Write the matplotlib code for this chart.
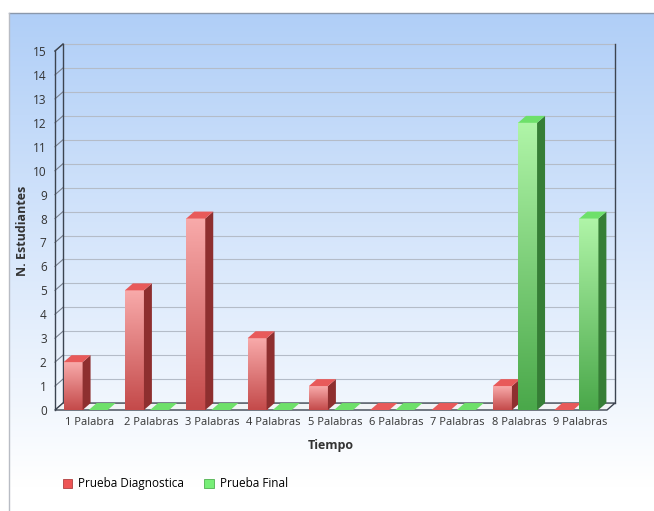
import numpy as np
import matplotlib
matplotlib.use("Agg")
import matplotlib.pyplot as plt
from matplotlib.patches import Patch

plt.rcParams['font.family'] = ['Open Sans', 'DejaVu Sans']

categories = ['1 Palabra', '2 Palabras', '3 Palabras', '4 Palabras', '5 Palabras',
              '6 Palabras', '7 Palabras', '8 Palabras', '9 Palabras']
diagnostica = [2, 5, 8, 3, 1, 0, 0, 1, 0]
final = [0, 0, 0, 0, 0, 0, 0, 12, 8]
series_names = ['Prueba Diagnostica', 'Prueba Final']
y_max = 15

# depth of the fake 3D effect (data units)
DX = 0.13
DY = 0.29
BAR_W = 0.31

red = dict(light='#f8aaaa', dark='#c44a4a', top='#e85a5a', side='#8e2f2f', legend='#ee5555')
green = dict(light='#b0f5a8', dark='#4aa84a', top='#6ee06a', side='#367e36', legend='#77ee77')

W, H = 654, 511
fig = plt.figure(figsize=(W / 100, H / 100), dpi=100)

# background panel with gradient (starts a bit in from top/left)
px0, py0 = 9, 13
bg = fig.add_axes([px0 / W, 0, 1 - px0 / W, 1 - py0 / H], zorder=0)
grad = np.linspace(0, 1, 256).reshape(-1, 1)
top_c = np.array([0.69, 0.81, 0.97])
bot_c = np.array([1.0, 1.0, 1.0])
t = np.clip(grad / 0.95, 0, 1)
img = (top_c * (1 - t) + bot_c * t).reshape(256, 1, 3)
bg.imshow(img, aspect='auto', extent=(0, 1, 0, 1), origin='upper')
bg.set_xlim(0, 1)
bg.set_ylim(0, 1)
bg.axis('off')
fig.add_artist(plt.Line2D([px0 / W, 1], [1 - py0 / H] * 2, color='#8a98ac', lw=1))
fig.add_artist(plt.Line2D([px0 / W] * 2, [0, 1 - py0 / H], color='#b8bcc4', lw=1))

ax = fig.add_axes([55 / W, 101 / H, 552 / W, 359 / H], zorder=1)
ax.patch.set_alpha(0)
n = len(categories)

# back wall gridlines + left wall slants
for v in range(y_max + 1):
    ax.plot([DX, n + DX], [v + DY, v + DY], color='#b4bcc8', lw=0.8, zorder=1, clip_on=False)
    ax.plot([0, DX], [v, v + DY], color='#7a8290', lw=0.8, zorder=1, clip_on=False)

# frame lines
ax.plot([DX, DX], [DY, y_max + DY], color='#3c4450', lw=1, zorder=2, clip_on=False)
ax.plot([n + DX, n + DX], [DY, y_max + DY], color='#3c4450', lw=1, zorder=2, clip_on=False)
ax.plot([0, 0], [0, y_max], color='#3c4450', lw=1, zorder=2, clip_on=False)
ax.plot([0, DX], [y_max, y_max + DY], color='#3c4450', lw=1, zorder=2, clip_on=False)

# floor
ax.fill([0, n, n + DX, DX], [0, 0, DY, DY], facecolor='#f2f4f6', edgecolor='#3c4450',
        lw=1, zorder=2, clip_on=False)


def bar3d(x0, h, c):
    x1 = x0 + BAR_W
    if h > 0:
        g = np.linspace(0, 1, 128).reshape(-1, 1)
        lc = np.array(matplotlib.colors.to_rgb(c['light']))
        dc = np.array(matplotlib.colors.to_rgb(c['dark']))
        im = (lc * (1 - g) + dc * g).reshape(128, 1, 3)
        ax.imshow(im, aspect='auto', extent=(x0, x1, 0, h), origin='upper', zorder=4)
        ax.fill([x1, x1 + DX, x1 + DX, x1], [0, DY, h + DY, h],
                color=c['side'], lw=0, zorder=4)
    ax.fill([x0, x1, x1 + DX, x0 + DX], [h, h, h + DY, h + DY],
            color=c['top'], lw=0, zorder=4, clip_on=False)


for i in range(n):
    bar3d(i + 0.14, diagnostica[i], red)
    bar3d(i + 0.55, final[i], green)

ax.set_xlim(0, n)
ax.set_ylim(0, y_max)
for s in ax.spines.values():
    s.set_visible(False)
ax.set_yticks(range(y_max + 1))
ax.set_yticklabels([str(v) for v in range(y_max + 1)], fontsize=8.5, color='#333333')
ax.set_xticks([i + 0.5 + DX / 2 for i in range(n)])
ax.set_xticklabels(categories, fontsize=8, color='#333333')
ax.tick_params(length=0, pad=5)
ax.tick_params(axis='y', pad=6)
ax.set_ylabel('N. Estudiantes', fontsize=9, fontweight='bold', color='#333333', labelpad=3)
ax.set_xlabel('Tiempo', fontsize=9, fontweight='bold', color='#333333', labelpad=8)

handles = [Patch(facecolor=red['legend'], edgecolor='#b04040', lw=0.6),
           Patch(facecolor=green['legend'], edgecolor='#50b050', lw=0.6)]
fig.legend(handles, series_names, loc='center left', bbox_to_anchor=(0.08, 0.053),
           ncol=2, frameon=False, handlelength=0.8, handleheight=0.8,
           handletextpad=0.5, columnspacing=1.7, prop={'size': 8.5})

fig.savefig('out.png', dpi=100)
